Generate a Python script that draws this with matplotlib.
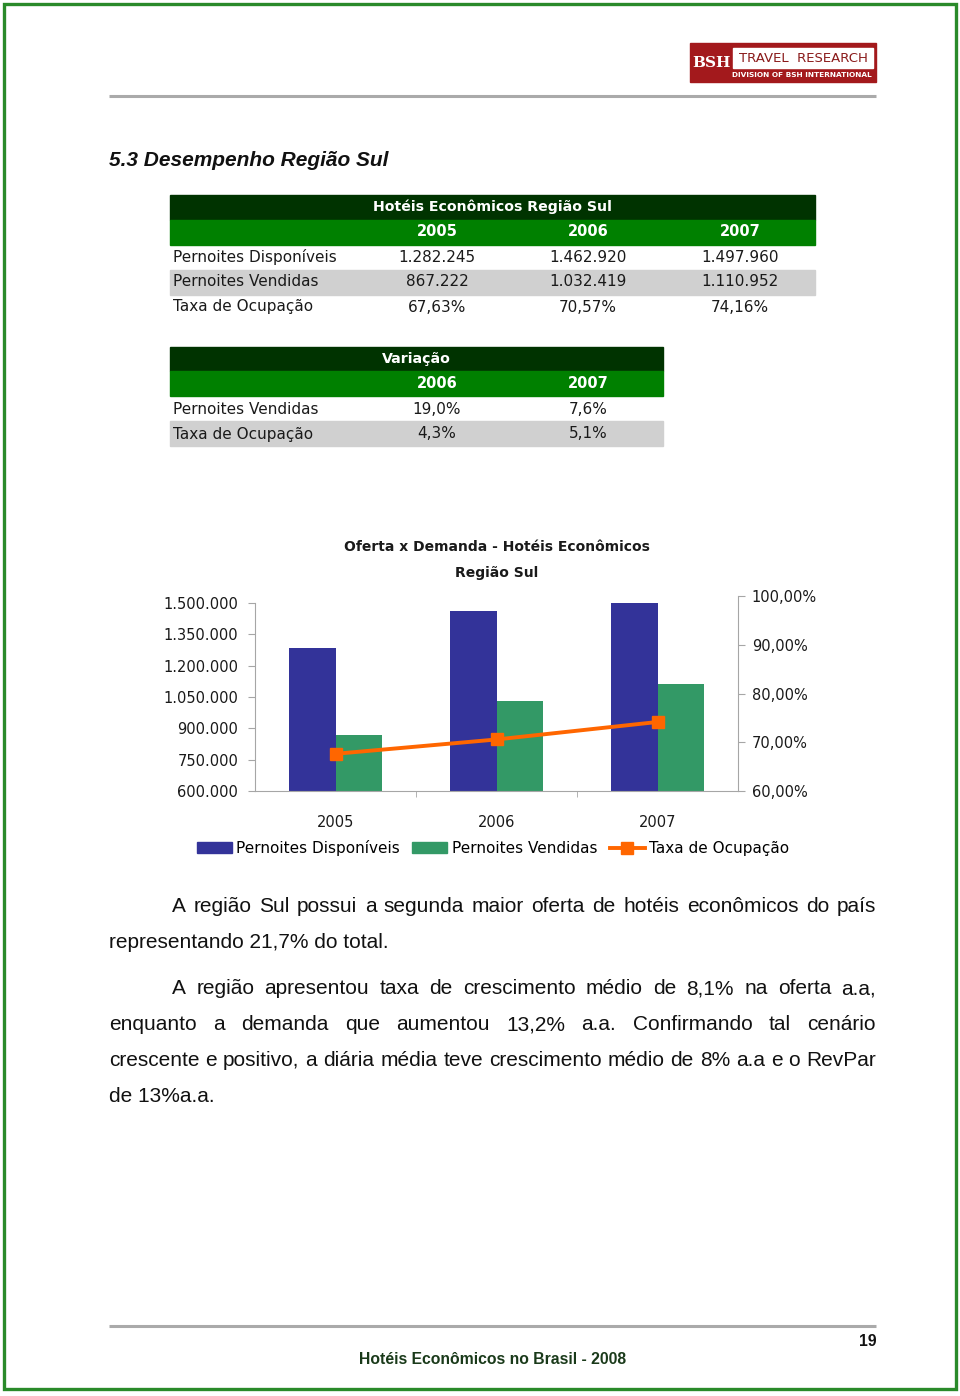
import matplotlib
matplotlib.use('Agg')
import matplotlib.pyplot as plt
from matplotlib.patches import Rectangle
from matplotlib.lines import Line2D

# dados das tabelas e do grafico
anos = ['2005', '2006', '2007']
disponiveis = [1282245, 1462920, 1497960]
vendidas = [867222, 1032419, 1110952]
taxa = [67.63, 70.57, 74.16]

var_anos = ['2006', '2007']
var_vendidas = [19.0, 7.6]
var_taxa = [4.3, 5.1]

ticks_esq = [600000, 750000, 900000, 1050000, 1200000, 1350000, 1500000]
ticks_dir = [60, 70, 80, 90, 100]

paragrafo1 = [
    "A região Sul possui a segunda maior oferta de hotéis econômicos do país",
    "representando 21,7% do total.",
]
paragrafo2 = [
    "A região apresentou taxa de crescimento médio de 8,1% na oferta a.a,",
    "enquanto a demanda que aumentou 13,2% a.a. Confirmando tal cenário",
    "crescente e positivo, a diária média teve crescimento médio de 8% a.a e o RevPar",
    "de 13%a.a.",
]


def milhar(n):
    return f"{n:,}".replace(',', '.')


def pct(v, casas):
    return f"{v:.{casas}f}".replace('.', ',') + '%'


VERDE_ESC = '#003300'
VERDE = '#008000'
CINZA = '#d0d0d0'
TAB_FONT = 'DejaVu Sans'
TXT = '#1a1a1a'

fig = plt.figure(figsize=(9.6, 13.96), dpi=100)
bg = fig.add_axes([0, 0, 1, 1])
bg.set_xlim(0, 960)
bg.set_ylim(1396, 0)
bg.axis('off')

# borda verde da pagina
bg.add_patch(Rectangle((4, 4), 952, 1385, fill=False, ec='#2a8a2a', lw=2.4))

# logo
bg.add_patch(Rectangle((690, 43), 186, 39, color='#a3191c'))
bg.add_patch(Rectangle((733, 48), 140, 20, color='white'))
bg.text(711, 63, 'BSH', color='white', fontsize=11, fontweight='bold',
        family='DejaVu Serif', ha='center', va='center')
bg.text(803, 58, 'TRAVEL  RESEARCH', color='#8a1a1a', fontsize=9.5,
        family='DejaVu Sans', ha='center', va='center')
bg.text(802, 75, 'DIVISION OF BSH INTERNATIONAL', color='white', fontsize=5.3,
        fontweight='bold', family='DejaVu Sans', ha='center', va='center')

# linhas cinza
bg.plot([109, 876], [96, 96], color='#aaaaaa', lw=2.2, solid_capstyle='butt')
bg.plot([109, 876], [1326, 1326], color='#aaaaaa', lw=2.2, solid_capstyle='butt')

# titulo da secao
bg.text(109, 160, '5.3 Desempenho Região Sul', family='Liberation Sans', fontsize=15,
        fontweight='bold', style='italic', va='center', ha='left', color='#111111')

# tabela 1
x0, x1 = 170, 815
cols = [437, 588, 740]
bg.add_patch(Rectangle((x0, 195), x1 - x0, 25, color=VERDE_ESC))
bg.add_patch(Rectangle((x0, 220), x1 - x0, 25, color=VERDE))
bg.add_patch(Rectangle((x0, 270), x1 - x0, 25, color=CINZA))
bg.text((x0 + x1) / 2, 207, 'Hotéis Econômicos Região Sul', color='white', fontsize=10.2,
        fontweight='bold', family=TAB_FONT, ha='center', va='center')
for c, a in zip(cols, anos):
    bg.text(c, 232, a, color='white', fontsize=10.5, fontweight='bold',
            family=TAB_FONT, ha='center', va='center')
linhas = [('Pernoites Disponíveis', [milhar(v) for v in disponiveis]),
          ('Pernoites Vendidas', [milhar(v) for v in vendidas]),
          ('Taxa de Ocupação', [pct(v, 2) for v in taxa])]
for i, (nome, vals) in enumerate(linhas):
    y = 257 + 25 * i
    bg.text(173, y, nome, fontsize=11, family=TAB_FONT, color=TXT, va='center')
    for c, v in zip(cols, vals):
        bg.text(c, y, v, fontsize=11, family=TAB_FONT, color=TXT, ha='center', va='center')

# tabela 2
x0, x1 = 170, 663
cols2 = [437, 588]
bg.add_patch(Rectangle((x0, 347), x1 - x0, 24, color=VERDE_ESC))
bg.add_patch(Rectangle((x0, 371), x1 - x0, 25, color=VERDE))
bg.add_patch(Rectangle((x0, 421), x1 - x0, 25, color=CINZA))
bg.text((x0 + x1) / 2, 359, 'Variação', color='white', fontsize=10.2,
        fontweight='bold', family=TAB_FONT, ha='center', va='center')
for c, a in zip(cols2, var_anos):
    bg.text(c, 384, a, color='white', fontsize=10.5, fontweight='bold',
            family=TAB_FONT, ha='center', va='center')
linhas2 = [('Pernoites Vendidas', [pct(v, 1) for v in var_vendidas]),
           ('Taxa de Ocupação', [pct(v, 1) for v in var_taxa])]
for i, (nome, vals) in enumerate(linhas2):
    y = 409 + 25 * i
    bg.text(173, y, nome, fontsize=11, family=TAB_FONT, color=TXT, va='center')
    for c, v in zip(cols2, vals):
        bg.text(c, y, v, fontsize=11, family=TAB_FONT, color=TXT, ha='center', va='center')

# grafico
fig.text(497 / 960, 1 - 547 / 1396, 'Oferta x Demanda - Hotéis Econômicos', fontsize=10,
         fontweight='bold', family=TAB_FONT, ha='center', va='center', color=TXT)
fig.text(497 / 960, 1 - 573 / 1396, 'Região Sul', fontsize=10,
         fontweight='bold', family=TAB_FONT, ha='center', va='center', color=TXT)

ax = fig.add_axes([255 / 960, 1 - 791 / 1396, 483 / 960, 195 / 1396])
ax.patch.set_alpha(0)
x = list(range(len(anos)))
w = 0.29
ax.bar([i - w / 2 for i in x], disponiveis, w, color='#333399', label='Pernoites Disponíveis')
ax.bar([i + w / 2 for i in x], vendidas, w, color='#339966', label='Pernoites Vendidas')
ax.set_xlim(-0.5, 2.5)
ax.set_ylim(600000, 1533500)
ax.set_yticks(ticks_esq)
ax.set_yticklabels([milhar(t) for t in ticks_esq])
ax.set_xticks(x)
ax.set_xticklabels(anos)
ax.set_xticks([0.5, 1.5], minor=True)
ax.tick_params(axis='x', which='major', length=0, pad=17, labelsize=10.5)
ax.tick_params(axis='x', which='minor', length=4, color='#a6a6a6')
ax.tick_params(axis='y', length=5, color='#a6a6a6', pad=7, labelsize=10.5)
for s in ['top', 'right']:
    ax.spines[s].set_visible(False)
for s in ['left', 'bottom']:
    ax.spines[s].set_color('#a6a6a6')
ax.spines['left'].set_bounds(600000, 1500000)

ax2 = ax.twinx()
ax2.plot(x, [t / 100 for t in taxa], color='#ff6600', lw=2.8, marker='s', markersize=8,
         label='Taxa de Ocupação')
ax2.set_ylim(0.6, 1.0)
ax2.set_yticks([t / 100 for t in ticks_dir])
ax2.set_yticklabels([pct(t, 2) for t in ticks_dir])
ax2.tick_params(axis='y', length=5, color='#a6a6a6', pad=5, labelsize=10.5)
for s in ['top', 'left', 'bottom']:
    ax2.spines[s].set_visible(False)
ax2.spines['right'].set_color('#a6a6a6')

for a in (ax, ax2):
    for lab in a.get_xticklabels() + a.get_yticklabels():
        lab.set_family(TAB_FONT)
        lab.set_color(TXT)

handles = [Rectangle((0, 0), 1, 1, color='#333399'),
           Rectangle((0, 0), 1, 1, color='#339966'),
           Line2D([], [], color='#ff6600', lw=2.8, marker='s', markersize=8)]
fig.legend(handles, ['Pernoites Disponíveis', 'Pernoites Vendidas', 'Taxa de Ocupação'],
           loc='center', bbox_to_anchor=(493 / 960, 1 - 848 / 1396), ncol=3, frameon=False,
           prop={'family': TAB_FONT, 'size': 11}, handlelength=2.3, handleheight=0.7,
           handletextpad=0.3, columnspacing=0.8, borderaxespad=0)

# texto justificado
renderer = fig.canvas.get_renderer()


def linha_justificada(frase, xa, xb, y):
    palavras = frase.split()
    txts = [bg.text(0, y, p, family='Liberation Sans', fontsize=15, va='center',
                    ha='left', color='#111111') for p in palavras]
    larg = [t.get_window_extent(renderer).width for t in txts]
    gap = (xb - xa - sum(larg)) / (len(palavras) - 1)
    pos = xa
    for t, l in zip(txts, larg):
        t.set_x(pos)
        pos += l + gap


def linha_normal(frase, xa, y):
    bg.text(xa, y, frase, family='Liberation Sans', fontsize=15, va='center',
            ha='left', color='#111111')


linha_justificada(paragrafo1[0], 172, 876, 906)
linha_normal(paragrafo1[1], 109, 943)
linha_justificada(paragrafo2[0], 172, 876, 989)
linha_justificada(paragrafo2[1], 109, 876, 1025)
linha_justificada(paragrafo2[2], 109, 876, 1061)
linha_normal(paragrafo2[3], 109, 1097)

# rodape
bg.text(868, 1341, '19', family='Liberation Sans', fontsize=11.3, fontweight='bold',
        ha='center', va='center', color='#111111')
bg.text(493, 1359, 'Hotéis Econômicos no Brasil - 2008', family='Liberation Sans',
        fontsize=11.3, fontweight='bold', ha='center', va='center', color='#1a3a1a')

fig.savefig('out.png', dpi=100)
